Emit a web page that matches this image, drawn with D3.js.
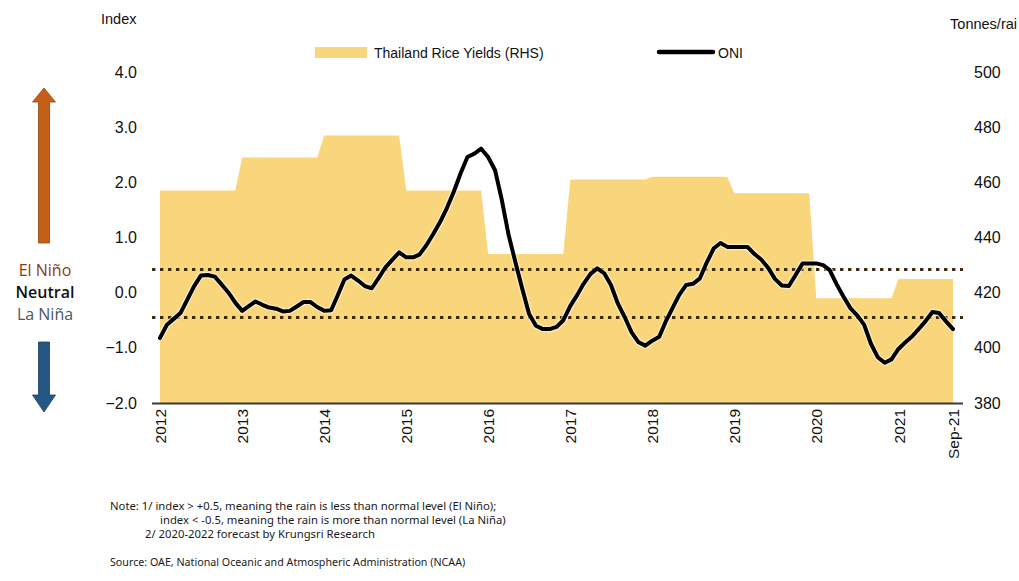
<!DOCTYPE html>
<html>
<head>
<meta charset="utf-8">
<script src="https://cdn.jsdelivr.net/npm/d3@7"></script>
<style>
  html, body { margin: 0; padding: 0; background: #ffffff; }
  svg { display: block; }
</style>
</head>
<body>
<svg id="chart" width="1019" height="581"></svg>
<script>
// ONI index, monthly, Jan 2012 .. Sep 2021
const oniValues = [
  -0.82, -0.58, -0.48, -0.37, -0.13, 0.12, 0.31, 0.32, 0.29, 0.15, 0.00, -0.18,   // 2012
  -0.33, -0.24, -0.16, -0.22, -0.27, -0.29, -0.34, -0.33, -0.25, -0.17, -0.17, -0.26, // 2013
  -0.33, -0.32, -0.06, 0.24, 0.31, 0.22, 0.12, 0.08, 0.27, 0.46, 0.60, 0.73,       // 2014
  0.64, 0.64, 0.69, 0.86, 1.06, 1.28, 1.53, 1.83, 2.17, 2.46, 2.52, 2.61,          // 2015
  2.46, 2.22, 1.70, 1.05, 0.56, 0.07, -0.38, -0.60, -0.66, -0.66, -0.62, -0.50,    // 2016
  -0.24, -0.04, 0.16, 0.34, 0.44, 0.35, 0.14, -0.20, -0.45, -0.72, -0.90, -0.96,   // 2017
  -0.87, -0.80, -0.53, -0.28, -0.04, 0.14, 0.16, 0.26, 0.55, 0.80, 0.90, 0.83,     // 2018
  0.83, 0.83, 0.83, 0.70, 0.60, 0.45, 0.25, 0.13, 0.12, 0.32, 0.53, 0.53,          // 2019
  0.53, 0.50, 0.41, 0.15, -0.07, -0.28, -0.41, -0.58, -0.93, -1.17, -1.27, -1.21,  // 2020
  -1.02, -0.90, -0.80, -0.66, -0.52, -0.35, -0.37, -0.52, -0.66                    // 2021
];

// Thailand rice yields by year (right-hand scale)
const yieldYears = [2012, 2013, 2014, 2015, 2016, 2017, 2018, 2019, 2020, 2021];
const yieldValues = [457, 469, 477, 457, 434, 461, 462, 456, 418, 425];

// ENSO threshold guides drawn across the plot
const thresholds = [0.42, -0.45];

const leftTicks = [4, 3, 2, 1, 0, -1, -2];
const rightTicks = [500, 480, 460, 440, 420, 400, 380];
const yearTicks = [2012, 2013, 2014, 2015, 2016, 2017, 2018, 2019, 2020, 2021];
const lastLabel = "Sep-21";

const notes = [
  "Note: 1/ index > +0.5, meaning the rain is less than normal level (El Niño);",
  "index < -0.5, meaning the rain is more than normal level (La Niña)",
  "2/ 2020-2022 forecast by Krungsri Research"
];
const source = "Source: OAE, National Oceanic and Atmospheric Administration (NCAA)";

const svg = d3.select("#chart");
const font = "'Liberation Sans', Arial, sans-serif";

const start = new Date(2012, 0, 1);
const end = new Date(2021, 8, 1);
const months = d3.timeMonth.range(start, d3.timeMonth.offset(end, 1));

const x = d3.scaleTime().domain([start, end]).range([160, 953]);
const yL = d3.scaleLinear().domain([-2, 4]).range([403, 72]);
const yR = d3.scaleLinear().domain([380, 500]).range([403, 72]);

// Yearly yields become a stepped area: each year held from January to December
const yieldPts = [];
yieldYears.forEach((yr, i) => {
  const a = new Date(yr, 0, 1);
  let b = new Date(yr, 11, 1);
  if (b > end) b = end;
  yieldPts.push({ date: a, v: yieldValues[i] });
  yieldPts.push({ date: b, v: yieldValues[i] });
});

svg.append("path")
  .datum(yieldPts)
  .attr("fill", "#f9d57b")
  .attr("d", d3.area()
    .x(d => x(d.date))
    .y0(yR(380))
    .y1(d => yR(d.v)));

// threshold dotted lines
svg.selectAll("line.thr")
  .data(thresholds)
  .join("line")
  .attr("class", "thr")
  .attr("x1", 152).attr("x2", 963)
  .attr("y1", d => yL(d)).attr("y2", d => yL(d))
  .attr("stroke", "#3d2c10")
  .attr("stroke-width", 3.2)
  .attr("stroke-dasharray", "3.4 4.6");

// ONI line with a light halo
const oniData = months.map((m, i) => ({ date: m, v: oniValues[i] }));
const oniLine = d3.line().x(d => x(d.date)).y(d => yL(d.v));
svg.append("path")
  .datum(oniData)
  .attr("fill", "none")
  .attr("stroke", "#ffffff")
  .attr("stroke-opacity", 0.55)
  .attr("stroke-width", 6.5)
  .attr("stroke-linejoin", "round")
  .attr("d", oniLine);
svg.append("path")
  .datum(oniData)
  .attr("fill", "none")
  .attr("stroke", "#000000")
  .attr("stroke-width", 4)
  .attr("stroke-linejoin", "round")
  .attr("stroke-linecap", "round")
  .attr("d", oniLine);

// bottom axis line
svg.append("line")
  .attr("x1", 152).attr("x2", 963)
  .attr("y1", 403.5).attr("y2", 403.5)
  .attr("stroke", "#3a3a3a")
  .attr("stroke-width", 2);

// x-axis labels (rotated)
const xTickDates = yearTicks.map(y => new Date(y, 0, 1)).concat([end]);
const xAxis = d3.axisBottom(x)
  .tickValues(xTickDates)
  .tickSize(0)
  .tickPadding(0)
  .tickFormat((d, i) => i < yearTicks.length ? String(yearTicks[i]) : lastLabel);
const gx = svg.append("g").attr("transform", "translate(0,409)").call(xAxis);
gx.select(".domain").remove();
gx.selectAll("text")
  .attr("font-family", font)
  .attr("font-size", 15.5)
  .attr("fill", "#111")
  .attr("text-anchor", "end")
  .attr("transform", "rotate(-90)")
  .attr("x", 0)
  .attr("y", 0)
  .attr("dy", "0.36em");

// left axis
const gl = svg.append("g").attr("transform", "translate(137,0)")
  .call(d3.axisLeft(yL).tickValues(leftTicks).tickSize(0).tickPadding(0)
    .tickFormat(d3.format(".1f")));
gl.select(".domain").remove();
gl.selectAll("text").attr("font-family", font).attr("font-size", 16).attr("fill", "#111");

// right axis
const gr = svg.append("g").attr("transform", "translate(974,0)")
  .call(d3.axisRight(yR).tickValues(rightTicks).tickSize(0).tickPadding(0));
gr.select(".domain").remove();
gr.selectAll("text").attr("font-family", font).attr("font-size", 16).attr("fill", "#111");

// axis titles
svg.append("text").attr("x", 101).attr("y", 24)
  .attr("font-family", font).attr("font-size", 14.5).attr("fill", "#111").text("Index");
svg.append("text").attr("x", 1017).attr("y", 29).attr("text-anchor", "end")
  .attr("font-family", font).attr("font-size", 14.5).attr("fill", "#111").text("Tonnes/rai");

// legend
svg.append("rect").attr("x", 315).attr("y", 47).attr("width", 52).attr("height", 11)
  .attr("fill", "#f9d57b");
svg.append("text").attr("x", 374).attr("y", 57.5)
  .attr("font-family", font).attr("font-size", 14).attr("fill", "#111")
  .text("Thailand Rice Yields (RHS)");
svg.append("line").attr("x1", 659).attr("x2", 713).attr("y1", 52).attr("y2", 52)
  .attr("stroke", "#000").attr("stroke-width", 4.5).attr("stroke-linecap", "round");
svg.append("text").attr("x", 718).attr("y", 57.5)
  .attr("font-family", font).attr("font-size", 14).attr("fill", "#111").text("ONI");

// ENSO direction arrows
const arrow = (x0, yTail, yHead, color, up) => {
  const shaftW = 11, headW = 23, headH = up ? 14 : 17;
  const dir = up ? 1 : -1;
  const yBase = yHead + dir * headH;
  const pts = [
    [x0 - shaftW / 2, yTail], [x0 - shaftW / 2, yBase], [x0 - headW / 2, yBase],
    [x0, yHead], [x0 + headW / 2, yBase], [x0 + shaftW / 2, yBase], [x0 + shaftW / 2, yTail]
  ];
  svg.append("path")
    .attr("d", d3.line()(pts) + "Z")
    .attr("fill", color)
    .attr("stroke", d3.color(color).darker(0.8))
    .attr("stroke-width", 0.8);
};
arrow(44, 243, 88, "#c55e17", true);
arrow(44, 342, 412, "#245784", false);

const sideFont = "'Open Sans', 'Noto Sans', sans-serif";
svg.append("text").attr("x", 45).attr("y", 276).attr("text-anchor", "middle")
  .attr("font-family", sideFont).attr("font-size", 16).attr("fill", "#8a3a12").text("El Niño");
svg.append("text").attr("x", 45).attr("y", 298).attr("text-anchor", "middle")
  .attr("font-family", sideFont).attr("font-size", 16).attr("font-weight", 600)
  .attr("fill", "#111").text("Neutral");
svg.append("text").attr("x", 45).attr("y", 320).attr("text-anchor", "middle")
  .attr("font-family", sideFont).attr("font-size", 16).attr("fill", "#4a5566").text("La Niña");

// notes and source
const noteFont = "'Noto Sans', 'DejaVu Sans', sans-serif";
const noteX = [110, 160, 145];
const noteY = [510, 524, 538];
notes.forEach((t, i) => {
  svg.append("text").attr("x", noteX[i]).attr("y", noteY[i])
    .attr("font-family", noteFont).attr("font-size", 11.3).attr("fill", "#1a1a1a").text(t);
});
svg.append("text").attr("x", 110).attr("y", 566)
  .attr("font-family", noteFont).attr("font-size", 10.7).attr("fill", "#1a1a1a").text(source);
</script>
</body>
</html>
